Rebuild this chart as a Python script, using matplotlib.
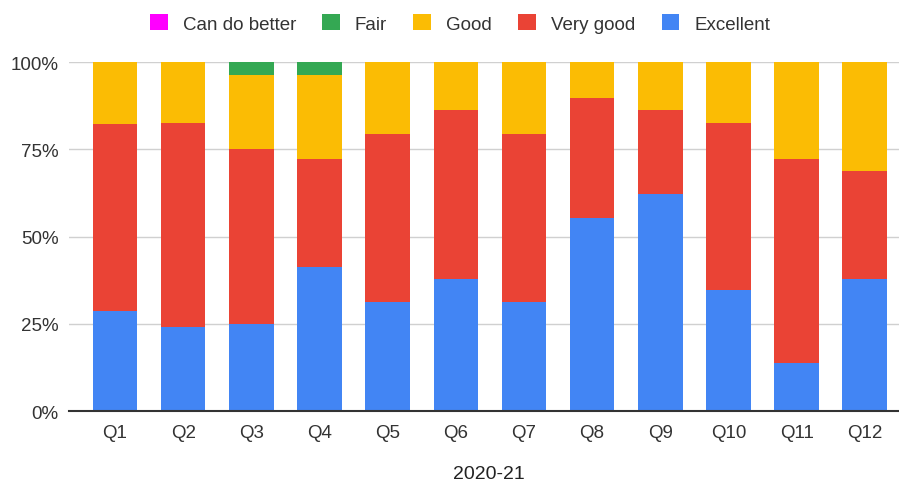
import matplotlib.pyplot as plt
import numpy as np

plt.rcParams['font.family'] = ['Liberation Sans', 'DejaVu Sans']

perguntas = ['Q1', 'Q2', 'Q3', 'Q4', 'Q5', 'Q6', 'Q7', 'Q8', 'Q9', 'Q10', 'Q11', 'Q12']

# percentuais (de baixo para cima)
excellent = [28.6, 24.1, 25.0, 41.3, 31.1, 37.7, 31.1, 55.3, 62.1, 34.8, 13.8, 37.8]
very_good = [53.5, 58.5, 50.0, 31.0, 48.4, 48.5, 48.4, 34.5, 24.1, 47.8, 58.5, 30.9]
good = [17.9, 17.4, 21.4, 24.1, 20.5, 13.8, 20.5, 10.2, 13.8, 17.4, 27.7, 31.3]
fair = [0, 0, 3.6, 3.6, 0, 0, 0, 0, 0, 0, 0, 0]
can_do_better = [0, 0, 0, 0, 0, 0, 0, 0, 0, 0, 0, 0]

series = [('Excellent', excellent, '#4285F4'),
          ('Very good', very_good, '#EA4335'),
          ('Good', good, '#FBBC04'),
          ('Fair', fair, '#34A853'),
          ('Can do better', can_do_better, '#FF00FF')]

fig = plt.figure(figsize=(8.99, 4.85), dpi=100)
ax = fig.add_axes([0.0773, 0.1505, 0.9227, 0.7196])

x = np.arange(len(perguntas))
base = np.zeros(len(perguntas))
barras = {}
for nome, vals, cor in series:
    vals = np.array(vals, dtype=float)
    barras[nome] = ax.bar(x, vals, 0.653, bottom=base, color=cor, label=nome, zorder=3)
    base = base + vals

ax.set_xlim(-0.668, 11.503)
ax.set_ylim(0, 100)
ax.set_yticks([0, 25, 50, 75, 100])
ax.set_yticklabels(['0%', '25%', '50%', '75%', '100%'])
ax.set_xticks(x)
ax.set_xticklabels(perguntas)
ax.tick_params(axis='both', length=0, labelsize=13.5, colors='#333333')
ax.tick_params(axis='x', pad=9)
ax.tick_params(axis='y', pad=8)

ax.grid(axis='y', color='#d0d0d0', linewidth=1, zorder=0)
for lado in ['top', 'right', 'left']:
    ax.spines[lado].set_visible(False)
ax.spines['bottom'].set_color('#333333')
ax.spines['bottom'].set_linewidth(1.5)
ax.spines['bottom'].set_zorder(4)

ax.set_xlabel('2020-21', fontsize=14, color='#222222')
ax.xaxis.set_label_coords((489 - 69.5) / 829.5, -0.155)

ordem = ['Can do better', 'Fair', 'Good', 'Very good', 'Excellent']
fig.legend([barras[n] for n in ordem], ordem, loc='center', bbox_to_anchor=(0.5117, 0.95),
           ncol=5, frameon=False, fontsize=13.5, handlelength=0.95, handleheight=0.95,
           handletextpad=0.8, columnspacing=1.4, labelcolor='#333333')

plt.savefig('out.png', dpi=100)
